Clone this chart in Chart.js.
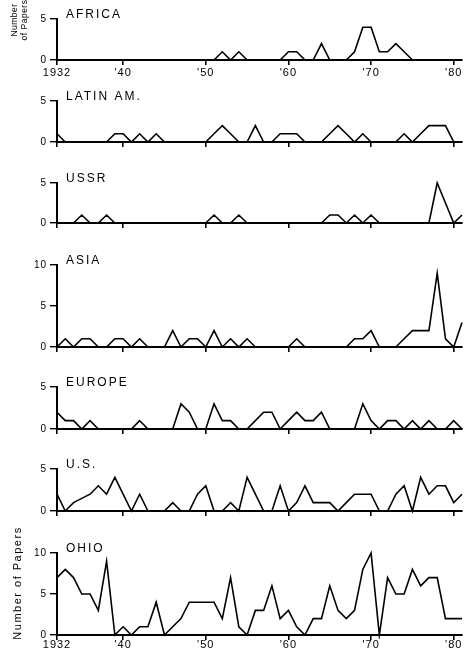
<!DOCTYPE html>
<html>
<head>
<meta charset="utf-8">
<script src="https://cdn.jsdelivr.net/npm/chart.js@4.4.0/dist/chart.umd.min.js"></script>
<style>
  html, body { margin: 0; padding: 0; background: #fff; }
  #wrap { position: relative; width: 467px; height: 659px; overflow: hidden; }
  #wrap canvas { position: absolute; left: 0; top: 0; }
</style>
</head>
<body>
<div id="wrap"></div>
<script>
// years 1932..1981
const years = Array.from({ length: 50 }, (_, i) => 1932 + i);
const xTicks = [1932, 1940, 1950, 1960, 1970, 1980];
const xTickLabels = ['1932', "'40", "'50", "'60", "'70", "'80"];

const africa  = [0,0,0,0,0,0,0,0,0,0, 0,0,0,0,0,0,0,0,0,0, 1,0,1,0,0,0,0,0,1,1, 0,0,2,0,0,0,1,4,4,1, 1,2,1,0,0,0,0,0,0,0];
const latinAm = [1,0,0,0,0,0,0,1,1,0, 1,0,1,0,0,0,0,0,0,1, 2,1,0,0,2,0,0,1,1,1, 0,0,0,1,2,1,0,1,0,0, 0,0,1,0,1,2,2,2,0,0];
const ussr    = [0,0,0,1,0,0,1,0,0,0, 0,0,0,0,0,0,0,0,0,1, 0,0,1,0,0,0,0,0,0,0, 0,0,0,1,1,0,1,0,1,0, 0,0,0,0,0,0,5,2.5,0,1];
const asia    = [0,1,0,1,1,0,0,1,1,0, 1,0,0,0,2,0,1,1,0,2, 0,1,0,1,0,0,0,0,0,1, 0,0,0,0,0,0,1,1,2,0, 0,0,1,2,2,2,9,1,0,3];
const europe  = [2,1,1,0,1,0,0,0,0,0, 1,0,0,0,0,3,2,0,0,3, 1,1,0,0,1,2,2,0,1,2, 1,1,2,0,0,0,0,3,1,0, 1,1,0,1,0,1,0,0,1,0];
const us      = [2,0,1,1.5,2,3,2,4,2,0, 2,0,0,0,1,0,0,2,3,0, 0,1,0,4,2,0,0,3,0,1, 3,1,1,1,0,1,2,2,2,0, 0,2,3,0,4,2,3,3,1,2];
const ohio    = [7,8,7,5,5,3,9,0,1,0, 1,1,4,0,1,2,4,4,4,4, 2,7,1,0,3,3,6,2,3,1, 0,2,2,6,3,2,3,8,10,0, 7,5,5,8,6,7,7,2,2,2];

const panels = [
  { name: 'AFRICA',    data: africa,  top: 19,  zero: 60,  max: 5,  labels: true, pad: 1 },
  { name: 'LATIN AM.', data: latinAm, top: 101, zero: 142, max: 5 },
  { name: 'USSR',      data: ussr,    top: 183, zero: 223, max: 5 },
  { name: 'ASIA',      data: asia,    top: 265, zero: 347, max: 10 },
  { name: 'EUROPE',    data: europe,  top: 387, zero: 429, max: 5 },
  { name: 'U.S.',      data: us,      top: 469, zero: 511, max: 5 },
  { name: 'OHIO',      data: ohio,    top: 553, zero: 635, max: 10, labels: true, pad: -2 }
];

const FONT = '"Liberation Sans", Arial, Helvetica, sans-serif';

// titles and the "Number of Papers" labels
const panelText = {
  id: 'panelText',
  beforeDraw(chart) { chart.ctx.letterSpacing = '1px'; },
  afterDraw(chart, args, opts) {
    const ctx = chart.ctx, a = chart.chartArea;
    ctx.save();
    ctx.fillStyle = '#000';
    ctx.letterSpacing = '2px';
    ctx.font = '12px ' + FONT;
    ctx.textBaseline = 'middle';
    ctx.textAlign = 'left';
    ctx.fillText(opts.title, a.left + 9, a.top - 4);
    if (opts.side === 'top') {
      ctx.font = '8.5px ' + FONT;
      ctx.letterSpacing = '0.5px';
      ctx.textAlign = 'center';
      [['Number', 15], ['of Papers', 25]].forEach(([t, x]) => {
        ctx.save();
        ctx.translate(x, 20);
        ctx.rotate(-Math.PI / 2);
        ctx.fillText(t, 0, 0);
        ctx.restore();
      });
    }
    if (opts.side === 'bottom') {
      ctx.font = '11px ' + FONT;
      ctx.letterSpacing = '1.5px';
      ctx.textAlign = 'center';
      ctx.translate(18, 583);
      ctx.rotate(-Math.PI / 2);
      ctx.fillText('Number of Papers', 0, 0);
    }
    ctx.restore();
    ctx.letterSpacing = '0px';
  }
};

const wrap = document.getElementById('wrap');

panels.forEach((p, idx) => {
  const canvas = document.createElement('canvas');
  canvas.width = 467;
  canvas.height = 659;
  wrap.appendChild(canvas);

  const yVals = p.max === 10 ? [0, 5, 10] : [0, 5];
  let side = null;
  if (idx === 0) side = 'top';
  if (idx === panels.length - 1) side = 'bottom';

  new Chart(canvas, {
    type: 'line',
    data: {
      datasets: [{
        data: years.map((y, i) => ({ x: y, y: p.data[i] })),
        borderColor: '#000',
        borderWidth: 1.6,
        pointRadius: 0,
        fill: false,
        tension: 0,
        clip: 4
      }]
    },
    options: {
      responsive: false,
      animation: false,
      events: [],
      layout: { padding: { top: p.top, bottom: 659 - p.zero - 20, left: 0, right: 5 } },
      plugins: {
        legend: { display: false },
        tooltip: { enabled: false },
        panelText: { title: p.name, side: side }
      },
      scales: {
        x: {
          type: 'linear',
          min: 1932,
          max: 1981,
          afterBuildTicks: s => { s.ticks = xTicks.map(v => ({ value: v })); },
          afterFit: s => { s.height = 20; },
          ticks: {
            autoSkip: false,
            maxRotation: 0,
            padding: p.pad || 0,
            color: '#000',
            font: { family: FONT, size: 11 },
            callback: (v, i) => p.labels ? xTickLabels[i] : ''
          },
          grid: { drawOnChartArea: false, drawTicks: true, tickLength: 5, color: '#000', lineWidth: 1.6 },
          border: { display: true, color: '#000', width: 2 }
        },
        y: {
          min: 0,
          max: p.max,
          afterBuildTicks: s => { s.ticks = yVals.map(v => ({ value: v })); },
          afterFit: s => { s.width = 57; },
          ticks: {
            padding: 3,
            color: '#000',
            font: { family: FONT, size: 10 }
          },
          grid: { drawOnChartArea: false, drawTicks: true, tickLength: 7, color: '#000', lineWidth: 1.4 },
          border: { display: true, color: '#000', width: 2 }
        }
      }
    },
    plugins: [panelText]
  });
});
</script>
</body>
</html>
